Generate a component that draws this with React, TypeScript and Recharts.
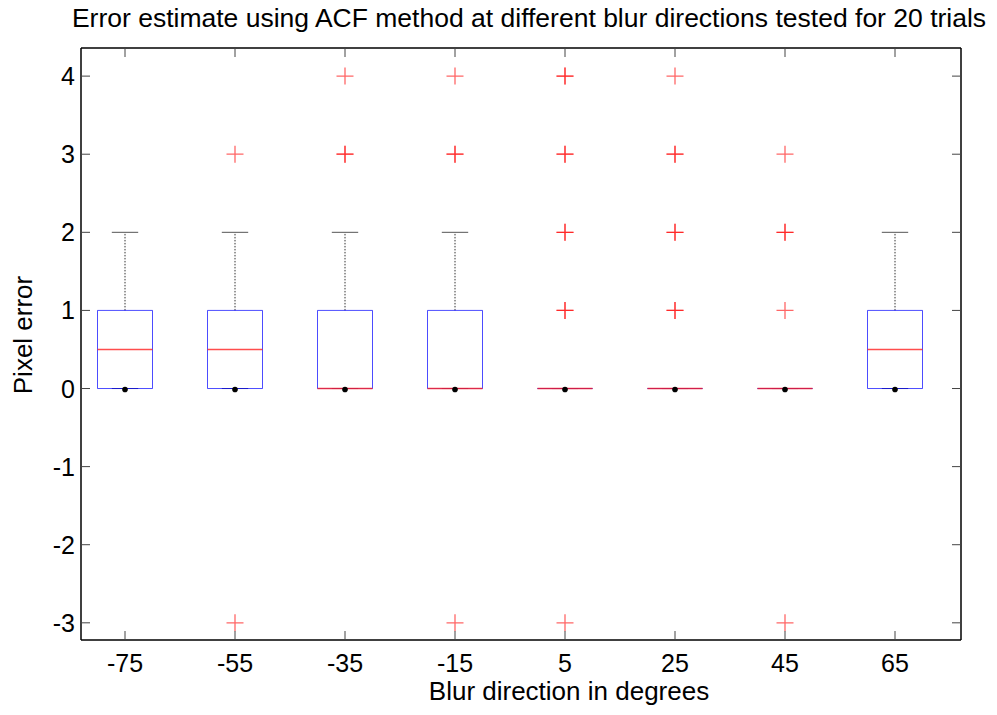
import React from 'react';
import { ComposedChart, XAxis, YAxis, Scatter, ReferenceLine } from 'recharts';

const directions = ['-75', '-55', '-35', '-15', '5', '25', '45', '65'];
const positions = [1, 2, 3, 4, 5, 6, 7, 8];
const q1 = [0, 0, 0, 0, 0, 0, 0, 0];
const q3 = [1, 1, 1, 1, 0, 0, 0, 1];
const medians = [0.5, 0.5, 0, 0, 0, 0, 0, 0.5];
const whiskerLow = [0, 0, 0, 0, 0, 0, 0, 0];
const whiskerHigh = [2, 2, 2, 2, 0, 0, 0, 2];
// repeated values = several trials with the same error
const outliers = [
  [],
  [3, -3],
  [4, 3, 3],
  [4, 3, 3, -3],
  [4, 4, 3, 3, 2, 2, 1, 1, -3],
  [4, 3, 3, 2, 2, 1, 1],
  [3, 2, 2, 1, -3],
  [],
];
const centerMarks = [0, 0, 0, 0, 0, 0, 0, 0];
const yTicks = [-3, -2, -1, 0, 1, 2, 3, 4];

const FONT = '"Liberation Sans", Arial, Helvetica, sans-serif';
const X_DOMAIN = [0.6, 8.6];
const Y_DOMAIN = [-3.22, 4.36];
const BOX_HALF = 0.25;
const CAP_HALF = 0.12;

const outlierData = outliers.flatMap((vals, i) => vals.map((v) => ({ x: positions[i], y: v })));
const centerData = centerMarks.map((v, i) => ({ x: positions[i], y: v }));

const tickStroke = '#444';

const BottomTick = (props: any) => {
  const { x, y, payload } = props;
  return (
    <g>
      <line x1={x} x2={x} y1={y} y2={y - 9} stroke={tickStroke} />
      <text x={x} y={y + 32} textAnchor="middle" fontSize={25} fontFamily={FONT} fill="#000">
        {directions[payload.value - 1]}
      </text>
    </g>
  );
};

const TopTick = (props: any) => {
  const { x, y } = props;
  return <line x1={x} x2={x} y1={y} y2={y + 9} stroke={tickStroke} />;
};

const LeftTick = (props: any) => {
  const { x, y, payload } = props;
  return (
    <g>
      <line x1={x} x2={x + 9} y1={y} y2={y} stroke={tickStroke} />
      <text x={x - 6} y={y + 9} textAnchor="end" fontSize={25} fontFamily={FONT} fill="#000">
        {payload.value}
      </text>
    </g>
  );
};

const RightTick = (props: any) => {
  const { x, y } = props;
  return <line x1={x} x2={x - 9} y1={y} y2={y} stroke={tickStroke} />;
};

const Plus = (props: any) => {
  const { cx, cy } = props;
  return (
    <path
      d={`M${cx - 8.5},${cy}H${cx + 8.5}M${cx},${cy - 8.5}V${cy + 8.5}`}
      stroke="#ff0000"
      strokeOpacity={0.6}
      strokeWidth={1.3}
      fill="none"
    />
  );
};

const Dot = (props: any) => {
  const { cx, cy } = props;
  return <circle cx={cx} cy={cy + 1} r={2.8} fill="#000" />;
};

const Nothing = () => <g />;

function seg(x1: number, y1: number, x2: number, y2: number) {
  return [{ x: x1, y: y1 }, { x: x2, y: y2 }];
}

export default function App() {
  return (
    <div style={{ position: 'absolute', left: 0, top: 0, width: 997, height: 715, background: '#fff' }}>
      <ComposedChart width={997} height={715} margin={{ top: 47, right: 35, bottom: 0, left: 0 }}>
        <XAxis
          xAxisId={0}
          dataKey="x"
          type="number"
          domain={X_DOMAIN}
          allowDataOverflow
          ticks={positions}
          height={75}
          tickSize={0}
          tickMargin={0}
          tick={<BottomTick />}
          axisLine={{ stroke: '#000', strokeWidth: 1.5 }}
        />
        <XAxis
          xAxisId="top"
          orientation="top"
          dataKey="x"
          type="number"
          domain={X_DOMAIN}
          allowDataOverflow
          ticks={positions}
          height={1}
          tickSize={0}
          tickMargin={0}
          tick={<TopTick />}
          axisLine={{ stroke: '#000', strokeWidth: 1.5 }}
        />
        <YAxis
          yAxisId={0}
          dataKey="y"
          type="number"
          domain={Y_DOMAIN}
          allowDataOverflow
          ticks={yTicks}
          width={81}
          tickSize={0}
          tickMargin={0}
          tick={<LeftTick />}
          axisLine={{ stroke: '#000', strokeWidth: 1.5 }}
        />
        <YAxis
          yAxisId="right"
          orientation="right"
          dataKey="y"
          type="number"
          domain={Y_DOMAIN}
          allowDataOverflow
          ticks={yTicks}
          width={1}
          tickSize={0}
          tickMargin={0}
          tick={<RightTick />}
          axisLine={{ stroke: '#000', strokeWidth: 1.5 }}
        />

        {positions.map((p, i) => (
          <ReferenceLine
            key={`wh-${i}`}
            segment={seg(p, q3[i], p, whiskerHigh[i])}
            stroke="#333"
            strokeDasharray="1.5 1.5"
            ifOverflow="visible"
          />
        ))}
        {positions.map((p, i) => (
          <ReferenceLine
            key={`wl-${i}`}
            segment={seg(p, whiskerLow[i], p, q1[i])}
            stroke="#333"
            strokeDasharray="1.5 1.5"
            ifOverflow="visible"
          />
        ))}
        {positions.map((p, i) => (
          <ReferenceLine
            key={`ch-${i}`}
            segment={seg(p - CAP_HALF, whiskerHigh[i], p + CAP_HALF, whiskerHigh[i])}
            stroke="#555"
            ifOverflow="visible"
          />
        ))}
        {positions.map((p, i) => (
          <ReferenceLine
            key={`cl-${i}`}
            segment={seg(p - CAP_HALF, whiskerLow[i], p + CAP_HALF, whiskerLow[i])}
            stroke="#555"
            ifOverflow="visible"
          />
        ))}
        {positions.flatMap((p, i) => [
          seg(p - BOX_HALF, q1[i], p + BOX_HALF, q1[i]),
          seg(p - BOX_HALF, q3[i], p + BOX_HALF, q3[i]),
          seg(p - BOX_HALF, q1[i], p - BOX_HALF, q3[i]),
          seg(p + BOX_HALF, q1[i], p + BOX_HALF, q3[i]),
        ]).map((s, k) => (
          <ReferenceLine key={`box-${k}`} segment={s} stroke="#0000ff" strokeOpacity={0.7} ifOverflow="visible" />
        ))}
        {positions.map((p, i) => (
          <ReferenceLine
            key={`md-${i}`}
            segment={seg(p - BOX_HALF, medians[i], p + BOX_HALF, medians[i])}
            stroke="#ff2020"
            strokeOpacity={0.8}
            strokeWidth={1.5}
            ifOverflow="visible"
          />
        ))}

        <Scatter data={outlierData} shape={<Plus />} isAnimationActive={false} />
        <Scatter data={centerData} shape={<Dot />} isAnimationActive={false} />
        <Scatter
          data={centerData}
          xAxisId="top"
          yAxisId="right"
          shape={<Nothing />}
          isAnimationActive={false}
        />
      </ComposedChart>

      <svg
        width={997}
        height={715}
        style={{ position: 'absolute', left: 0, top: 0, pointerEvents: 'none' }}
      >
        <text x={529} y={27} textAnchor="middle" fontSize={26.5} fontFamily={FONT} fill="#000">
          Error estimate using ACF method at different blur directions tested for 20 trials
        </text>
        <text x={569} y={700} textAnchor="middle" fontSize={26} fontFamily={FONT} fill="#000">
          Blur direction in degrees
        </text>
        <text
          x={32}
          y={335}
          textAnchor="middle"
          fontSize={26}
          fontFamily={FONT}
          fill="#000"
          transform="rotate(-90 32 335)"
        >
          Pixel error
        </text>
      </svg>
    </div>
  );
}
